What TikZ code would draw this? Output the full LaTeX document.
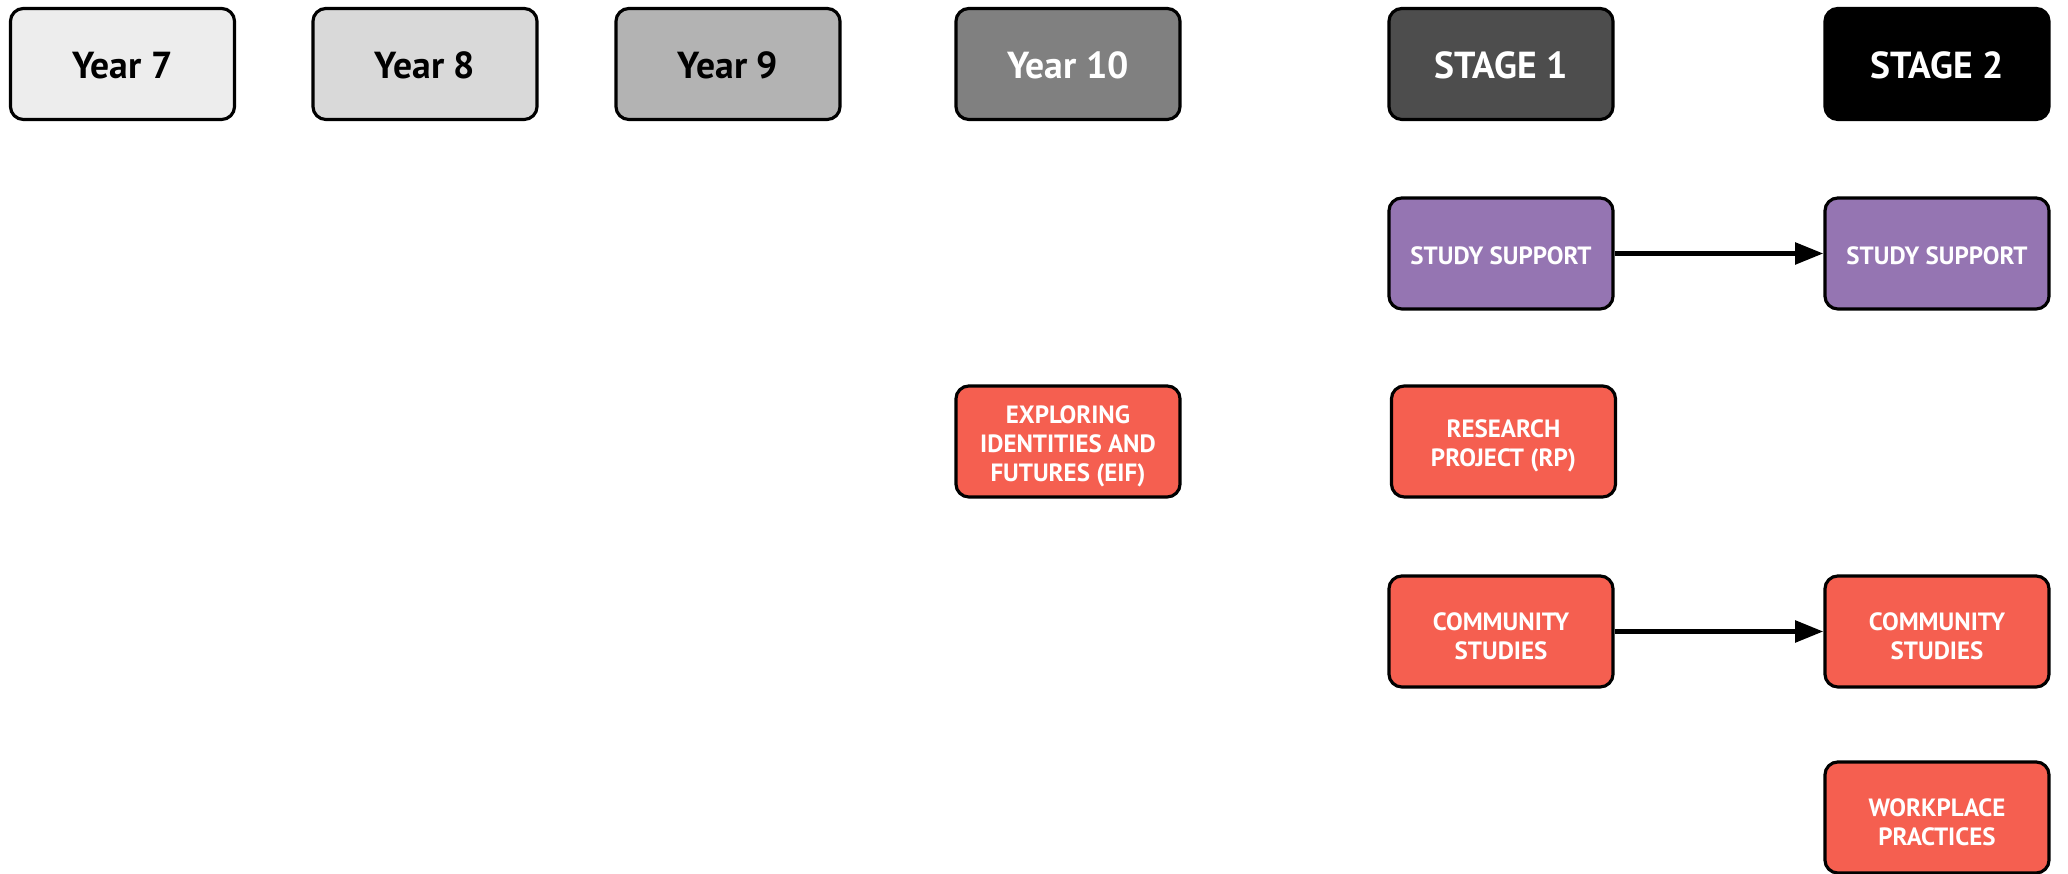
\documentclass[tikz,border=0pt]{standalone}
\usepackage{fontspec}
\setmainfont{PT Sans}
\usetikzlibrary{arrows.meta}

\definecolor{yearseven}{HTML}{EDEDED}
\definecolor{yeareight}{HTML}{D9D9D9}
\definecolor{yearnine}{HTML}{B3B3B3}
\definecolor{yearten}{HTML}{808080}
\definecolor{stageone}{HTML}{4D4D4D}
\definecolor{stagetwo}{HTML}{000000}
\definecolor{supportpurple}{HTML}{9575B2}
\definecolor{subjectred}{HTML}{F55F50}

% a strut on the first line sets a stacked label a little lower in its box
\newcommand{\stackstrut}{\rule{0pt}{7.7pt}}

\begin{document}
\begin{tikzpicture}[x=0.01cm, y=-0.01cm,
  box/.style={draw=black, line width=0.9pt, rounded corners=0.13cm,
    minimum width=2.24cm, minimum height=1.11cm, inner sep=0pt, align=center},
  headbox/.style={box, font=\fontsize{10.7}{12}\selectfont\bfseries,
    execute at begin node={\rule{0pt}{8.6pt}}},
  itembox/.style={box, text=white, font=\fontsize{7.1}{8.3}\selectfont\bfseries},
  purplebox/.style={itembox, fill=supportpurple,
    execute at begin node={\rule{0pt}{6.1pt}}},
  redbox/.style={itembox, fill=subjectred},
  flow/.style={line width=1.4pt, -{Triangle[length=8pt,width=6pt]}}
]
\useasboundingbox (0,0) rectangle (2068,874);

% year and stage headings
\node[headbox, fill=yearseven] (y7) at (122.5,64) {Year 7};
\node[headbox, fill=yeareight] (y8) at (425,64) {Year 8};
\node[headbox, fill=yearnine] (y9) at (728,64) {Year 9};
\node[headbox, fill=yearten, text=white] (y10) at (1068,64) {Year 10};
\node[headbox, fill=stageone, text=white] (s1) at (1501,64) {STAGE 1};
\node[headbox, fill=stagetwo, text=white] (s2) at (1937,64) {STAGE 2};

% subjects
\node[purplebox] (ss1) at (1501,253.5) {STUDY SUPPORT};
\node[purplebox] (ss2) at (1937,253.5) {STUDY SUPPORT};
\node[redbox] (eif) at (1068,441.5) {\stackstrut EXPLORING\\IDENTITIES AND\\FUTURES (EIF)};
\node[redbox] (rp) at (1503.5,441.5) {\stackstrut RESEARCH\\PROJECT (RP)};
\node[redbox] (cs1) at (1501,631.5) {\stackstrut COMMUNITY\\STUDIES};
\node[redbox] (cs2) at (1937,631.5) {\stackstrut COMMUNITY\\STUDIES};
\node[redbox] (wp) at (1937,817.5) {\stackstrut WORKPLACE\\PRACTICES};

% progression from Stage 1 to Stage 2
\draw[flow] (ss1.east) -- (ss2.west);
\draw[flow] (cs1.east) -- (cs2.west);
\end{tikzpicture}
\end{document}
